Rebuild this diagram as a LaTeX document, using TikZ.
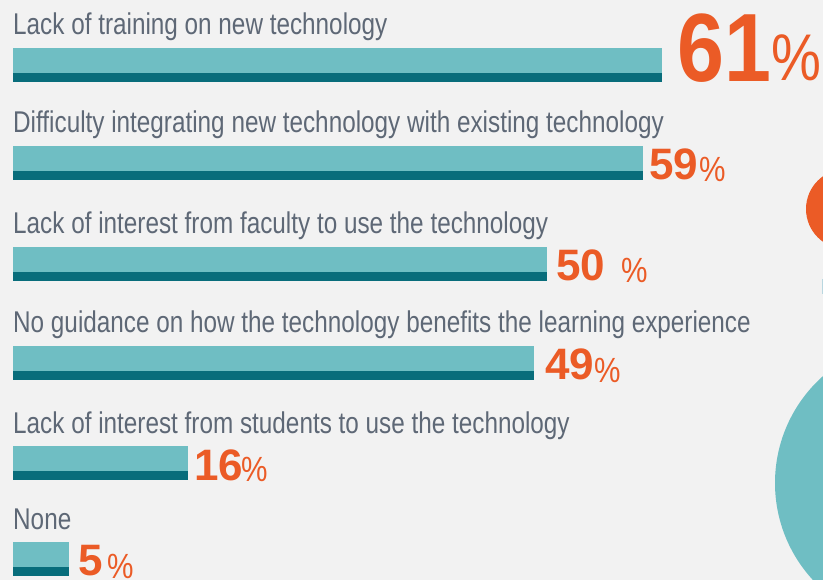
\documentclass[tikz,border=0pt]{standalone}
\usepackage{fontspec}
\setmainfont{Liberation Sans}
\newfontfamily\lblfont[FakeStretch=0.81]{Liberation Sans}
\newfontfamily\pctfont[FakeStretch=0.85]{Liberation Sans}
\newfontfamily\bignumfont[FakeStretch=0.87]{Liberation Sans}
\definecolor{bggray}{HTML}{F2F2F2}
\definecolor{barlight}{HTML}{6FBEC3}
\definecolor{bardark}{HTML}{086D7B}
\definecolor{numorange}{HTML}{EB5B26}
\definecolor{lblgray}{HTML}{5E6876}
\definecolor{paleblue}{HTML}{B9D7E0}
\begin{document}
\begin{tikzpicture}[x=1pt, y=-1pt, line cap=round, line join=round]
				\tikzset{lbl/.style={anchor=base west, inner sep=0pt, text=lblgray, font=\lblfont\fontsize{30}{30}\selectfont},
				num/.style={anchor=base west, inner sep=0pt, text=numorange, font=\bfseries\fontsize{44}{44}\selectfont},
				pct/.style={anchor=base west, inner sep=0pt, text=numorange, font=\pctfont\fontsize{35}{35}\selectfont}}
				\useasboundingbox (0,0) rectangle (823,580);
				\clip (0,0) rectangle (823,580);
				\fill[bggray] (0,0) rectangle (823,580);
				\fill[numorange] (846,209) circle (40pt);
				\fill[barlight] (918,483) circle (143pt);
				\fill[paleblue] (821.5,279) rectangle (823,294);
				\foreach\t/\r/\s [count=\i] in {48/662/{Lack of training on new technology},
					146/643/{Difficulty integrating new technology with existing technology},
					247/547/{Lack of interest from faculty to use the technology},
					346/534/{No guidance on how the technology benefits the learning experience},
					446/188/{Lack of interest from students to use the technology},
					542/69/{None}}
				{
					\node[lbl] (lbl\i) at (13,\t-13) {\s};
					\fill[barlight] (13,\t) rectangle (\r,\t+25);
					\fill[bardark] (13,\t+25) rectangle (\r,\t+33.7);
				}
				\node[num, font=\bignumfont\bfseries\fontsize{97}{97}\selectfont] (num1) at (677,81.5) {61};
				\node[pct, font=\pctfont\fontsize{66}{66}\selectfont] (pct1) at (771,81) {\%};
				\node[num] (num2) at (649,180) {59};
				\node[pct] (pct2) at (699,182) {\%};
				\node[num] (num3) at (556,281) {50};
				\node[pct] (pct3) at (621,283) {\%};
				\node[num] (num4) at (545,380) {49};
				\node[pct] (pct4) at (594,382.5) {\%};
				\node[num] (num5) at (194,480) {16};
				\node[pct] (pct5) at (241,482) {\%};
				\node[num] (num6) at (78,575.7) {5};
				\node[pct] (pct6) at (107,578) {\%};
			\end{tikzpicture}
\end{document}
